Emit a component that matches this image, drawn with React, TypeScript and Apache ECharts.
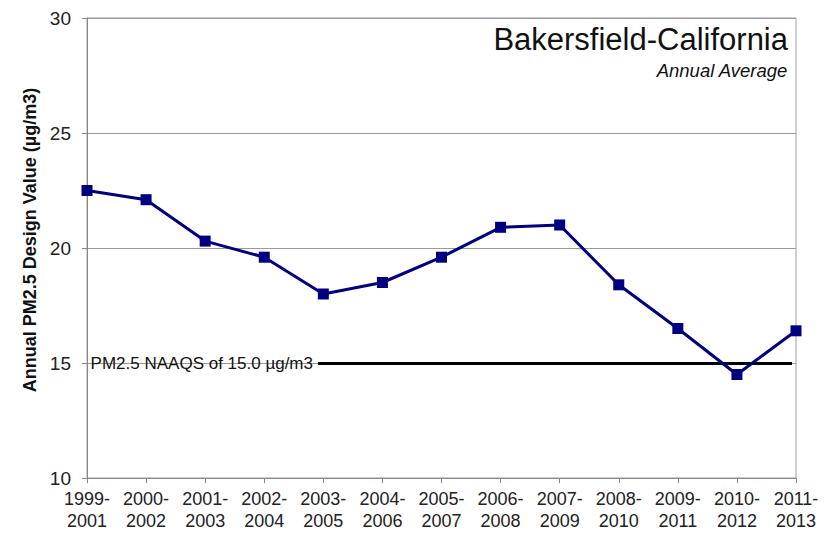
import React, { useEffect, useRef } from "react";
import * as echarts from "echarts";

const categories = [
  "1999-\n2001", "2000-\n2002", "2001-\n2003", "2002-\n2004", "2003-\n2005",
  "2004-\n2006", "2005-\n2007", "2006-\n2008", "2007-\n2009", "2008-\n2010",
  "2009-\n2011", "2010-\n2012", "2011-\n2013",
];
const designValues = [22.5, 22.1, 20.3, 19.6, 18.0, 18.5, 19.6, 20.9, 21.0, 18.4, 16.5, 14.5, 16.4];
const naaqsValue = 15.0;
const naaqsLabel = "PM2.5 NAAQS of 15.0 µg/m3";
const titleText = "Bakersfield-California";
const subtitleText = "Annual Average";
const yAxisTitle = "Annual PM2.5 Design Value (µg/m3)";

const FONT = "'Liberation Sans', Arial, sans-serif";

export default function App() {
  const ref = useRef<HTMLDivElement>(null);
  useEffect(() => {
    if (!ref.current) return;
    const chart = echarts.init(ref.current, undefined, { renderer: "svg" });
    chart.setOption({
      animation: false,
      backgroundColor: "#ffffff",
      textStyle: { fontFamily: FONT },
      grid: {
        left: 87, right: 31, top: 18, bottom: 57,
        show: true, borderColor: "#a0a0a0", borderWidth: 1,
      },
      title: [
        {
          text: titleText,
          right: 39, top: 24, padding: 0,
          textStyle: { fontFamily: FONT, fontSize: 31, fontWeight: "normal", color: "#111" },
        },
        {
          text: subtitleText,
          right: 39, top: 61, padding: 0,
          textStyle: { fontFamily: FONT, fontSize: 18.5, fontWeight: "normal", fontStyle: "italic", color: "#111" },
        },
      ],
      xAxis: {
        type: "category",
        data: categories,
        boundaryGap: false,
        axisLine: { lineStyle: { color: "#888", width: 1 } },
        axisTick: { show: true, length: 5, inside: false, lineStyle: { color: "#888" } },
        axisLabel: {
          fontFamily: FONT, fontSize: 18, color: "#222", margin: 10, lineHeight: 22,
          interval: 0,
        },
        splitLine: { show: false },
      },
      yAxis: {
        type: "value",
        min: 10, max: 30, interval: 5,
        name: yAxisTitle,
        nameLocation: "middle",
        nameGap: 48,
        nameTextStyle: {
          fontFamily: FONT, fontSize: 18, fontWeight: "bold", color: "#111",
          padding: [0, 0, 0, 16],
        },
        axisLine: { show: true, lineStyle: { color: "#888", width: 1 } },
        axisTick: { show: true, length: 5, lineStyle: { color: "#888" } },
        axisLabel: { fontFamily: FONT, fontSize: 19, color: "#222", margin: 16 },
        splitLine: { show: true, lineStyle: { color: "#999", width: 1 } },
      },
      series: [
        {
          type: "line",
          data: designValues,
          symbol: "rect",
          symbolSize: 11,
          lineStyle: { color: "#000080", width: 3 },
          itemStyle: { color: "#000080" },
          z: 3,
          markLine: {
            silent: true,
            symbol: "none",
            z: 2,
            lineStyle: { color: "#000", width: 3, type: "solid" },
            label: {
              show: true,
              position: "start",
              distance: 5,
              formatter: naaqsLabel,
              fontFamily: FONT, fontSize: 17, color: "#111",
            },
            data: [[{ x: 318, yAxis: naaqsValue }, { x: 792, yAxis: naaqsValue }]],
          },
        },
      ],
    });
    return () => chart.dispose();
  }, []);
  return <div ref={ref} style={{ width: 827, height: 535, margin: -8 }} />;
}
